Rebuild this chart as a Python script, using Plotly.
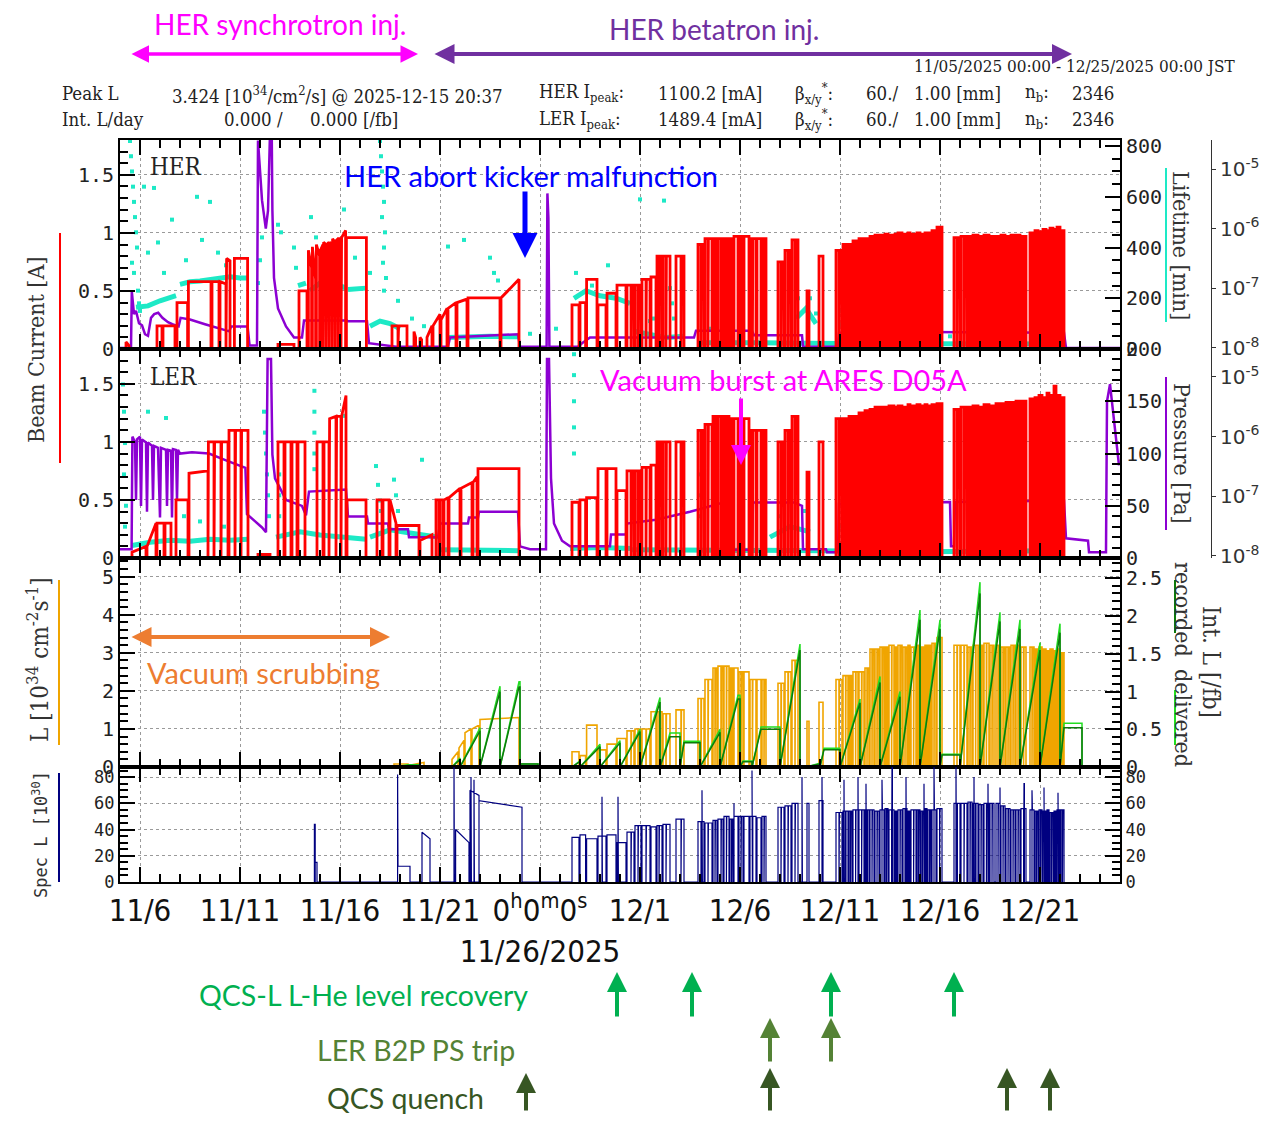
import pandas as pd
import plotly.graph_objects as go

BASE = pd.Timestamp("2025-11-05 00:00:00")
N_DAYS = 50  # 11/05 00:00 -> 12/25 00:00 JST

# ---------------- x ticks ----------------
XTICK_DAYS = [1, 6, 11, 16, 21, 26, 31, 36, 41, 46]
XTICK_TEXT = ["11/6", "11/11", "11/16", "11/21",
              "0<sup>h</sup>0<sup>m</sup>0<sup>s</sup><br>11/26/2025",
              "12/1", "12/6", "12/11", "12/16", "12/21"]
# pressure axis ticks
P_TICKS = [1e-8, 1e-7, 1e-6, 1e-5]
P_TICK_TEXT = ["10<sup>-8</sup>", "10<sup>-7</sup>", "10<sup>-6</sup>", "10<sup>-5</sup>"]

# ---------------- beam current fills: (start day, end day, I at start [A], I at end [A]) -------------
HER_FILLS_EARLY = [
    (0.30, 0.45, 0.06, 0.03), (1.85, 2.10, 0.20, 0.20), (2.15, 2.75, 0.20, 0.20),
    (2.85, 3.38, 0.40, 0.40), (3.42, 4.55, 0.58, 0.58), (4.60, 4.95, 0.58, 0.58),
    (5.00, 5.30, 0.58, 0.56), (5.33, 5.50, 0.78, 0.76), (5.72, 6.38, 0.78, 0.78),
    (7.90, 8.70, 0.04, 0.04), (8.95, 9.35, 0.50, 0.50), (9.42, 9.58, 0.85, 0.70),
    (9.62, 9.78, 0.88, 0.60), (9.82, 9.98, 0.90, 0.80), (10.02, 10.15, 0.85, 0.90),
    (10.18, 10.30, 0.92, 0.90), (10.33, 10.45, 0.90, 0.92), (10.48, 10.60, 0.92, 0.90),
    (10.63, 10.75, 0.95, 0.92), (10.78, 10.90, 0.93, 0.95), (10.93, 11.05, 0.95, 0.95),
    (11.08, 11.28, 0.96, 1.02), (11.32, 12.32, 0.96, 0.96), (13.60, 13.90, 0.20, 0.20),
    (13.93, 14.35, 0.20, 0.20), (14.70, 14.78, 0.15, 0.10), (15.00, 15.08, 0.10, 0.08),
    (15.35, 15.60, 0.10, 0.20), (15.65, 16.00, 0.20, 0.30), (16.05, 16.35, 0.25, 0.35),
    (16.40, 16.80, 0.35, 0.40), (16.85, 17.35, 0.40, 0.43), (17.40, 19.00, 0.44, 0.44),
    (19.05, 19.95, 0.44, 0.60),
]
LER_FILLS_EARLY = [
    (0.60, 1.30, 0.05, 0.10), (1.35, 1.80, 0.10, 0.30), (1.85, 2.20, 0.30, 0.30),
    (2.25, 2.55, 0.30, 0.30), (2.80, 3.40, 0.50, 0.50), (3.45, 4.40, 0.73, 0.75),
    (4.42, 4.70, 1.00, 1.00), (4.73, 5.05, 1.00, 1.00), (5.08, 5.40, 1.00, 1.00),
    (5.45, 5.75, 1.10, 1.10), (5.78, 6.05, 1.10, 1.10), (6.08, 6.40, 1.10, 1.10),
    (6.90, 7.50, 0.03, 0.03), (7.90, 8.20, 1.00, 1.00), (8.25, 8.55, 1.00, 1.00),
    (8.60, 8.85, 1.00, 1.00), (8.90, 9.25, 1.00, 1.00), (9.85, 10.15, 1.00, 1.00),
    (10.20, 10.45, 1.00, 1.00), (10.48, 10.80, 1.20, 1.22), (10.83, 11.05, 1.22, 1.22),
    (11.08, 11.30, 1.22, 1.40), (11.35, 12.30, 0.50, 0.50), (12.85, 13.10, 0.50, 0.50),
    (13.15, 13.45, 0.50, 0.50), (13.50, 13.80, 0.50, 0.30), (13.85, 14.95, 0.28, 0.28),
    (15.00, 15.60, 0.15, 0.20), (15.80, 15.95, 0.50, 0.50), (16.00, 16.15, 0.50, 0.50),
    (16.20, 16.40, 0.50, 0.52), (16.45, 17.00, 0.52, 0.60), (17.05, 17.60, 0.60, 0.65),
    (17.65, 17.85, 0.65, 0.70), (17.90, 19.95, 0.77, 0.77),
]
# luminosity [1e34] and specific luminosity [1e30] before the collision period
LUM_FILLS_EARLY = [
    (13.70, 14.40, 0.08, 0.08), (14.50, 15.20, 0.05, 0.12), (16.60, 16.90, 0.20, 0.40),
    (16.95, 17.20, 0.50, 0.70), (17.25, 17.55, 0.90, 1.00), (17.60, 17.95, 1.00, 1.10),
    (18.00, 19.95, 1.25, 1.30),
]
SPEC_FILLS_EARLY = [
    (9.72, 9.76, 44, 44), (9.76, 9.85, 15, 15), (13.90, 14.50, 12, 12),
    (15.10, 15.50, 38, 33), (16.78, 17.45, 40, 30), (17.50, 17.95, 70, 66),
    (17.95, 20.10, 62, 57),
]

# ---------------- collision runs (start/end day) with levels per run ----------------
RUN_START = [22.60, 23.00, 23.33, 23.90, 24.35, 24.85, 25.35, 25.75, 26.10, 26.55,
             26.85, 27.15, 27.80, 28.90, 29.25, 29.65, 29.90, 30.20, 30.50, 30.70,
             30.95, 31.20, 31.50, 31.85, 32.10, 32.90, 33.25, 33.60, 34.35, 34.95,
             35.80, 36.15, 36.45, 36.65, 36.95, 37.25, 37.50, 37.75, 38.00, 38.25,
             38.45, 38.75, 38.90, 39.15, 39.40, 39.55, 39.85, 40.05, 40.25, 40.40,
             40.60, 40.85, 41.70, 42.05, 42.40, 42.65, 42.95, 43.20, 43.50, 43.80,
             44.05, 44.30, 44.55, 44.80, 45.05, 45.50, 45.75, 45.95, 46.15, 46.35,
             46.50, 46.70, 46.85, 47.05]
RUN_END = [22.95, 23.28, 23.85, 24.30, 24.80, 25.30, 25.70, 26.05, 26.50, 26.80,
           27.10, 27.50, 28.20, 29.20, 29.60, 29.85, 30.15, 30.45, 30.65, 30.90,
           31.15, 31.45, 31.80, 32.05, 32.30, 33.20, 33.55, 33.90, 34.45, 35.15,
           36.10, 36.40, 36.60, 36.90, 37.20, 37.45, 37.70, 37.95, 38.20, 38.40,
           38.70, 38.85, 39.10, 39.35, 39.50, 39.80, 40.00, 40.20, 40.35, 40.55,
           40.80, 41.10, 42.00, 42.35, 42.60, 42.90, 43.15, 43.45, 43.70, 44.00,
           44.25, 44.50, 44.75, 45.00, 45.30, 45.70, 45.90, 46.10, 46.30, 46.45,
           46.65, 46.80, 47.00, 47.20]
# short beam losses inside runs (day)
EXTRA_ABORTS = [25.55, 25.90, 26.30, 26.95, 27.30, 28.05, 29.05, 29.40, 29.75, 30.05,
                30.32, 30.58, 31.05, 31.62, 32.20, 33.05, 33.40, 33.75, 35.95, 36.28,
                36.52, 36.78, 37.08, 37.35, 37.60, 37.85, 38.10, 38.32, 38.58, 38.80,
                39.00, 39.25, 39.45, 39.68, 39.92, 40.12, 40.30, 40.48, 40.70, 40.98,
                41.85, 42.20, 42.50, 42.78, 43.05, 43.32, 43.60, 43.90, 44.15, 44.40,
                44.65, 44.90, 45.18, 45.60, 45.82, 46.02, 46.22, 46.40, 46.57, 46.75,
                46.92, 47.12]
HER_RUN_I = [0.38, 0.40, 0.60, 0.38, 0.48, 0.55, 0.55, 0.55, 0.60, 0.62,
             0.80, 0.80, 0.80, 0.90, 0.95, 0.95, 0.95, 0.95, 0.95, 0.97,
             0.97, 0.97, 0.95, 0.95, 0.95, 0.75, 0.85, 0.94, 0.50, 0.80,
             0.85, 0.90, 0.90, 0.93, 0.95, 0.95, 0.97, 0.98, 0.98, 0.99,
             0.98, 0.99, 1.00, 0.99, 1.00, 0.99, 1.00, 0.99, 1.00, 1.00,
             1.02, 1.05, 0.96, 0.97, 0.97, 0.98, 0.97, 0.98, 0.97, 0.97,
             0.98, 0.97, 0.98, 0.98, 0.97, 1.00, 1.02, 1.01, 1.03, 1.02,
             1.04, 1.03, 1.05, 1.02]
LER_RUN_I = [0.48, 0.50, 0.52, 0.77, 0.77, 0.58, 0.75, 0.75, 0.78, 0.80,
             1.00, 1.00, 1.00, 1.10, 1.15, 1.22, 1.22, 1.22, 1.20, 1.20,
             1.20, 1.20, 1.10, 1.10, 1.10, 1.00, 1.10, 1.22, 0.74, 1.00,
             1.20, 1.20, 1.22, 1.22, 1.25, 1.27, 1.28, 1.30, 1.30, 1.30,
             1.31, 1.30, 1.31, 1.30, 1.32, 1.31, 1.32, 1.31, 1.32, 1.31,
             1.32, 1.33, 1.28, 1.30, 1.30, 1.31, 1.30, 1.32, 1.31, 1.33,
             1.33, 1.34, 1.34, 1.35, 1.35, 1.37, 1.38, 1.40, 1.38, 1.42,
             1.40, 1.48, 1.40, 1.38]
LUM_RUN = [0.40, 0.30, 1.10, 0.45, 0.60, 0.75, 0.95, 1.00, 1.00, 1.45,
           1.45, 1.40, 1.50, 1.80, 2.30, 2.60, 2.65, 2.65, 2.60, 2.60,
           2.50, 2.50, 2.30, 2.30, 2.30, 2.20, 2.50, 2.80, 1.20, 1.70,
           2.30, 2.40, 2.40, 2.50, 2.50, 2.60, 3.10, 3.10, 3.15, 3.15,
           3.20, 3.15, 3.20, 3.15, 3.20, 3.15, 3.20, 3.15, 3.20, 3.20,
           3.25, 3.40, 3.20, 3.20, 3.15, 3.20, 3.20, 3.25, 3.20, 3.20,
           3.15, 3.15, 3.20, 3.20, 3.15, 3.15, 3.10, 3.15, 3.10, 3.05,
           3.10, 3.05, 3.10, 3.00]
SPEC_RUN = [34, 36, 33, 35, 36, 30, 38, 43, 43, 42,
            43, 44, 48, 46, 45, 47, 48, 50, 48, 50,
            50, 50, 50, 49, 50, 57, 58, 60, 60, 62,
            53, 54, 54, 55, 55, 55, 55, 54, 55, 56,
            55, 54, 55, 56, 54, 55, 55, 54, 56, 55,
            55, 56, 60, 60, 61, 60, 59, 60, 60, 60,
            58, 56, 55, 55, 56, 55, 54, 55, 54, 55,
            53, 54, 55, 55]
SPEC_SPIKE_T = [13.88, 16.70, 17.55, 17.70, 24.10, 24.90, 29.10, 30.70, 31.60, 34.10,
                35.10, 36.20, 36.90, 37.30, 38.10, 38.60, 39.30, 40.20, 40.70, 41.80,
                42.70, 43.40, 44.00, 45.20, 45.60, 46.20, 46.90]
SPEC_SPIKE_V = [82, 90, 80, 78, 65, 65, 70, 60, 85, 80,
                80, 78, 80, 75, 78, 90, 80, 75, 88, 88,
                80, 75, 72, 75, 70, 72, 68]

# ---------------- vacuum pressure [Pa] (day, value) ----------------
HER_PRESSURE = [
    (0.0, 1.0e-8), (0.55, 1.0e-8), (0.59, 8.9e-8), (0.70, 3.7e-8), (0.80, 4.2e-8),
    (0.95, 2.6e-8), (1.10, 2.4e-8), (1.25, 1.7e-8), (1.40, 1.6e-8), (1.55, 3.2e-8),
    (1.71, 3.7e-8), (1.91, 3.9e-8), (2.12, 3.2e-8), (2.40, 2.7e-8), (2.62, 2.5e-8),
    (2.93, 2.3e-8), (3.03, 3.2e-8), (3.50, 3.0e-8), (4.25, 2.5e-8), (5.00, 2.1e-8),
    (5.46, 1.9e-8), (5.56, 2.3e-8), (6.38, 2.3e-8), (6.48, 1.1e-8), (6.85, 1.1e-8),
    (6.90, 3.0e-5), (7.10, 3.0e-6), (7.29, 1.0e-6), (7.40, 2.0e-6), (7.49, 3.0e-5),
    (7.59, 3.0e-5), (7.62, 2.0e-6), (7.70, 1.5e-7), (7.90, 4.6e-8), (8.30, 2.3e-8),
    (8.70, 1.5e-8), (9.10, 1.5e-8), (9.20, 2.9e-8), (11.35, 2.9e-8), (11.40, 2.8e-8),
    (12.35, 2.8e-8), (12.45, 1.2e-8), (13.80, 1.05e-8), (16.40, 1.05e-8), (16.50, 1.5e-8),
    (19.90, 1.7e-8), (20.00, 1.05e-8), (21.33, 1.05e-8), (21.37, 3.9e-6), (21.42, 1.5e-6),
    (21.47, 1.05e-8), (22.90, 1.05e-8), (23.10, 1.2e-8), (23.50, 1.5e-8), (28.70, 1.5e-8),
    (28.80, 1.95e-8), (31.60, 1.95e-8), (31.70, 1.64e-8), (34.10, 1.64e-8), (34.15, 1.05e-8),
    (35.90, 1.05e-8), (35.95, 1.8e-8), (40.00, 1.85e-8), (47.20, 1.8e-8), (47.30, 1.0e-8),
    (50.00, 1.0e-8),
]
LER_PRESSURE = [
    (0.0, 1.3e-8), (0.58, 1.3e-8), (0.62, 1.0e-6), (0.75, 8.1e-7), (0.80, 8.7e-8),
    (0.85, 9.0e-7), (1.00, 1.0e-6), (1.05, 6.9e-8), (1.10, 9.0e-7), (1.30, 8.0e-7),
    (1.35, 5.5e-8), (1.40, 8.0e-7), (1.60, 7.0e-7), (1.65, 8.7e-8), (1.70, 7.0e-7),
    (1.90, 6.5e-7), (2.00, 4.4e-8), (2.05, 6.5e-7), (2.30, 6.0e-7), (2.35, 6.9e-8),
    (2.40, 6.0e-7), (2.55, 5.8e-7), (2.60, 4.4e-8), (2.65, 6.2e-7), (2.80, 6.0e-7),
    (2.85, 8.7e-8), (2.90, 6.0e-7), (3.00, 5.2e-7), (3.60, 5.5e-7), (4.45, 5.2e-7),
    (5.30, 4.0e-7), (6.27, 3.0e-7), (6.35, 5.0e-8), (6.60, 4.2e-8), (7.10, 3.0e-8),
    (7.30, 2.5e-8), (7.38, 2.0e-5), (7.55, 2.0e-5), (7.62, 5.0e-7), (7.75, 2.0e-7),
    (8.00, 1.35e-7), (8.30, 8.7e-8), (9.10, 6.9e-8), (9.30, 4.8e-8), (9.45, 1.2e-7),
    (11.30, 1.3e-7), (11.40, 4.6e-8), (12.35, 4.6e-8), (12.40, 3.5e-8), (13.40, 3.5e-8),
    (13.45, 2.8e-8), (14.40, 2.8e-8), (14.45, 2.05e-8), (15.90, 2.05e-8), (16.00, 3.5e-8),
    (17.40, 3.5e-8), (17.45, 4.4e-8), (17.90, 4.4e-8), (17.95, 5.5e-8), (19.90, 5.5e-8),
    (20.00, 1.45e-8), (20.50, 1.3e-8), (21.30, 1.3e-8), (21.35, 2.0e-5), (21.45, 2.0e-5),
    (21.55, 2.0e-7), (21.70, 3.5e-8), (22.10, 1.8e-8), (22.50, 1.45e-8), (24.50, 1.45e-8),
    (24.55, 2.3e-8), (25.30, 2.3e-8), (25.35, 3.5e-8), (26.80, 4.05e-8), (28.50, 5.5e-8),
    (30.20, 7.9e-8), (30.25, 1.27e-8), (31.60, 1.27e-8), (31.65, 7.9e-8), (33.70, 7.9e-8),
    (34.10, 6.9e-8), (34.15, 1.3e-8), (35.30, 1.3e-8), (35.35, 1.16e-8), (35.90, 1.16e-8),
    (35.95, 7.5e-8), (41.50, 8.0e-8), (41.55, 1.45e-8), (41.70, 1.45e-8), (41.75, 8.0e-8),
    (47.20, 8.5e-8), (47.30, 1.98e-8), (48.40, 1.8e-8), (48.45, 1.16e-8), (49.30, 1.16e-8),
    (49.35, 3.9e-6), (49.50, 7.6e-6), (49.80, 8.1e-7), (49.95, 3.3e-7),
]

# ---------------- beam lifetime [min] ----------------
HER_LIFETIME_BANDS = [
    [(3.0, 255), (3.5, 265), (4.0, 268), (4.5, 275), (5.0, 280), (5.5, 285), (6.0, 280), (6.35, 280)],
    [(0.8, 165), (1.4, 170), (2.0, 190), (2.8, 210)],
    [(8.9, 250), (9.3, 260)],
    [(9.5, 230), (10.0, 260), (10.5, 255), (11.0, 250), (11.3, 240)],
    [(11.4, 235), (12.3, 240)],
    [(12.5, 90), (13.0, 110), (13.5, 100), (14.0, 80)],
    [(16.4, 45), (17.5, 50), (18.5, 50), (19.9, 48)],
    [(22.7, 200), (23.3, 230), (24.0, 210), (24.8, 200), (25.5, 180)],
    [(25.7, 70), (26.5, 55), (27.3, 45), (28.2, 50)],
    [(28.9, 25), (31.0, 22), (33.0, 24), (36.0, 22), (39.0, 20), (42.0, 20), (45.0, 20), (47.2, 22)],
    [(33.8, 120), (34.3, 160), (34.8, 100)],
    [(36.0, 100), (36.5, 80)],
]
HER_LIFETIME_DOTS = [
    (0.50, 820), (0.55, 760), (0.60, 700), (0.65, 640), (0.70, 580), (0.75, 520), (0.80, 460),
    (0.85, 400), (0.60, 340), (0.70, 300), (0.90, 230), (0.95, 180), (1.00, 150), (1.20, 640),
    (1.40, 380), (1.70, 635), (1.90, 420), (2.20, 300), (2.60, 510), (3.30, 350), (3.85, 600),
    (4.10, 430), (4.50, 580), (4.90, 380), (5.30, 330), (6.90, 260), (7.00, 350), (7.10, 440),
    (7.90, 490), (8.05, 460), (8.70, 400), (8.80, 320), (9.55, 520), (9.80, 440), (10.30, 360),
    (11.20, 550), (11.75, 360), (12.50, 300), (13.00, 820), (13.05, 760), (13.10, 700),
    (13.15, 640), (13.20, 580), (13.10, 520), (13.25, 460), (13.20, 400), (13.15, 340),
    (13.30, 280), (13.20, 230), (13.90, 190), (14.60, 120), (15.20, 90), (16.40, 404),
    (17.20, 430), (18.50, 360), (18.70, 300), (18.90, 270), (20.50, 60), (21.80, 80),
    (22.80, 300), (23.60, 250), (24.40, 330), (26.00, 590), (26.50, 110), (26.70, 120),
    (27.20, 585), (27.50, 240), (27.60, 180), (27.70, 120), (29.50, 80), (31.00, 60),
    (33.90, 200), (34.50, 200), (34.80, 140), (36.00, 150), (36.30, 110), (38.50, 60), (41.50, 50),
]
LER_LIFETIME_BANDS = [
    [(0.6, 12), (1.5, 15), (2.5, 17), (3.5, 16), (4.5, 18), (5.5, 17), (6.4, 18)],
    [(7.8, 20), (9.0, 25), (10.0, 22), (11.0, 20), (12.3, 18)],
    [(12.5, 20), (13.5, 27), (14.5, 24), (15.9, 20)],
    [(16.0, 8), (17.5, 8), (19.9, 7)],
    [(22.5, 9), (24.0, 10), (25.6, 9)],
    [(25.6, 8), (30.0, 7), (35.0, 7), (40.0, 6), (44.0, 6), (47.2, 7)],
    [(32.5, 20), (33.5, 30), (34.5, 25)],
]
LER_LIFETIME_DOTS = [
    (0.15, 166), (0.20, 140), (0.25, 110), (0.20, 80), (0.30, 50), (0.25, 30), (1.40, 140),
    (2.30, 134), (3.20, 40), (4.00, 35), (5.20, 30), (7.20, 140), (7.25, 120), (7.30, 100),
    (7.35, 80), (7.40, 60), (7.45, 40), (7.96, 80), (7.96, 60), (7.96, 40), (9.72, 160),
    (9.72, 140), (9.72, 120), (9.72, 100), (9.72, 85), (11.15, 136), (12.80, 88), (12.90, 70),
    (13.00, 55), (13.05, 45), (13.70, 75), (13.80, 60), (13.90, 45), (15.10, 94), (22.70, 195),
    (22.70, 175), (22.70, 150), (22.70, 125), (22.70, 100), (29.00, 80), (29.00, 60), (29.00, 40),
    (33.00, 40), (34.20, 45), (36.00, 30),
]

# ---------------- daily integrated luminosity [/fb] ----------------
SAW_T0 = [13.70, 16.60, 17.00, 18.00, 19.00, 20.00, 22.60, 23.00, 24.00, 25.00, 26.00,
          27.00, 28.00, 29.00, 30.00, 31.00, 31.60, 33.00, 34.30, 35.00, 36.00, 37.00,
          38.00, 39.00, 40.00, 41.00, 42.00, 43.00, 44.00, 45.00, 46.00, 47.00]
SAW_T1 = [14.40, 17.00, 18.00, 19.00, 19.95, 20.00, 23.00, 24.00, 25.00, 26.00, 27.00,
          27.50, 28.20, 30.00, 30.90, 31.15, 32.05, 34.00, 35.00, 35.20, 37.00, 38.00,
          39.00, 40.00, 41.00, 41.10, 43.00, 44.00, 45.00, 46.00, 47.00, 47.20]
SAW_T2 = [15.00, 17.00, 18.00, 19.00, 20.00, 20.90, 23.00, 24.00, 25.00, 26.00, 27.00,
          28.00, 29.00, 30.00, 31.00, 31.60, 33.00, 34.00, 35.00, 36.00, 37.00, 38.00,
          39.00, 40.00, 41.00, 42.00, 43.00, 44.00, 45.00, 46.00, 47.00, 48.10]
DELIVERED = [0.03, 0.12, 0.52, 1.07, 1.13, 0.04, 0.08, 0.30, 0.35, 0.50, 0.92,
             0.45, 0.34, 0.50, 0.95, 0.08, 0.53, 1.63, 0.05, 0.25, 0.90, 1.20,
             1.00, 2.08, 1.95, 0.17, 2.45, 2.05, 1.95, 1.65, 1.90, 0.58]
RECORDED = [0.02, 0.10, 0.48, 1.00, 1.06, 0.04, 0.07, 0.27, 0.32, 0.47, 0.86,
            0.40, 0.32, 0.46, 0.90, 0.07, 0.50, 1.55, 0.04, 0.23, 0.85, 1.12,
            0.93, 1.95, 1.83, 0.16, 2.30, 1.93, 1.83, 1.55, 1.78, 0.52]

# ---------------- event markers (day) ----------------
ABORT_KICKER_DAY = 20.25
VACUUM_BURST_DAY = 31.05
QCS_RECOVERY_DAYS = [24.85, 28.60, 35.55, 41.70]
B2P_TRIP_DAYS = [32.50, 35.55]
QCS_QUENCH_DAYS = [20.30, 32.50, 44.35, 46.50]

# =====================================================================
def to_time(days):
    return [None if d is None else BASE + pd.Timedelta(days=d) for d in days]

def iso(d):
    return (BASE + pd.Timedelta(days=d)).strftime("%Y-%m-%d %H:%M:%S")

def fills_xy(fills):
    xs, ys = [], []
    for t0, t1, v0, v1 in sorted(fills):
        xs += [t0, t0, t1, t1]
        ys += [0, v0, v1, 0]
    return to_time(xs), ys

def runs(levels):
    out = []
    for a, b, v in zip(RUN_START, RUN_END, levels):
        cuts = [c for c in EXTRA_ABORTS if a < c < b]
        edges = [a] + cuts + [b]
        for i in range(len(edges) - 1):
            s = edges[i] + (0.02 if i > 0 else 0.0)
            out.append((s, edges[i + 1], v, v))
    return out

def saw(peaks):
    xs, ys = [], []
    for a, b, c, p in zip(SAW_T0, SAW_T1, SAW_T2, peaks):
        xs += [a, b, c, c]
        ys += [0, p, p, 0]
    return to_time(xs), ys

def pairs(pts):
    return to_time([p[0] for p in pts]), [p[1] for p in pts]

def bands(segs):
    xs, ys = [], []
    for s in segs:
        xs += [p[0] for p in s] + [None]
        ys += [p[1] for p in s] + [None]
    return to_time(xs), ys

# The page adds an 8 px body margin, so the figure starts at (8, 8) on screen.
# Helpers take screen pixels (1268x1122 window); plot area x 120..1120, y 140..882.
FIG_W, FIG_H = 1260, 1106
ML, MT = 112, 132
PW, PH = FIG_W - ML, 742
MB = FIG_H - MT - PH
def px(x): return (x - 120) / PW
def py(y): return (882 - y) / PH
XR = px(1120)
PX_LOG = px(1211)

D1 = [py(349), 1.0]
D2 = [py(558), py(349)]
D3 = [py(767), py(558)]
D4 = [0.0, py(767)]

RED = "#FF0000"
CYAN = "#1DE9C6"
PURPLE = "#8C00D2"
ORANGE = "#F0A500"
LGREEN = "#22DD22"
DGREEN = "#0C7A0C"
NAVY = "#000080"

fig = go.Figure()

# ---- panel 1 (HER) ----
x, y = bands(HER_LIFETIME_BANDS)
fig.add_trace(go.Scatter(x=x, y=y, mode="lines", line=dict(color=CYAN, width=5),
                         xaxis="x", yaxis="y", connectgaps=False))
x, y = pairs(HER_LIFETIME_DOTS)
fig.add_trace(go.Scatter(x=x, y=y, mode="markers", marker=dict(color=CYAN, size=4, symbol="square"),
                         xaxis="x", yaxis="y"))
x, y = pairs(HER_PRESSURE)
fig.add_trace(go.Scatter(x=x, y=y, mode="lines", line=dict(color=PURPLE, width=2.5),
                         xaxis="x", yaxis="y5"))
x, y = fills_xy(HER_FILLS_EARLY + runs(HER_RUN_I))
fig.add_trace(go.Scatter(x=x, y=y, mode="lines", line=dict(color=RED, width=2.8),
                         xaxis="x", yaxis="y6"))

# ---- panel 2 (LER) ----
x, y = bands(LER_LIFETIME_BANDS)
fig.add_trace(go.Scatter(x=x, y=y, mode="lines", line=dict(color=CYAN, width=5),
                         xaxis="x2", yaxis="y2", connectgaps=False))
x, y = pairs(LER_LIFETIME_DOTS)
fig.add_trace(go.Scatter(x=x, y=y, mode="markers", marker=dict(color=CYAN, size=4, symbol="square"),
                         xaxis="x2", yaxis="y2"))
x, y = pairs(LER_PRESSURE)
fig.add_trace(go.Scatter(x=x, y=y, mode="lines", line=dict(color=PURPLE, width=2.5),
                         xaxis="x2", yaxis="y7"))
x, y = fills_xy(LER_FILLS_EARLY + runs(LER_RUN_I))
fig.add_trace(go.Scatter(x=x, y=y, mode="lines", line=dict(color=RED, width=2.8),
                         xaxis="x2", yaxis="y8"))

# ---- panel 3 (luminosity, integrated luminosity drawn on top) ----
x, y = fills_xy(LUM_FILLS_EARLY + runs(LUM_RUN))
fig.add_trace(go.Scatter(x=x, y=y, mode="lines", line=dict(color=ORANGE, width=1.6),
                         xaxis="x3", yaxis="y3"))
x, y = saw(DELIVERED)
fig.add_trace(go.Scatter(x=x, y=y, mode="lines", line=dict(color=LGREEN, width=1.5),
                         xaxis="x3", yaxis="y9"))
x, y = saw(RECORDED)
fig.add_trace(go.Scatter(x=x, y=y, mode="lines", line=dict(color=DGREEN, width=1.5),
                         xaxis="x3", yaxis="y9"))

# ---- panel 4 (specific luminosity) ----
spikes = [(t, t + 0.02, v, v) for t, v in zip(SPEC_SPIKE_T, SPEC_SPIKE_V)]
x, y = fills_xy(SPEC_FILLS_EARLY + runs(SPEC_RUN) + spikes)
fig.add_trace(go.Scatter(x=x, y=y, mode="lines", line=dict(color=NAVY, width=1.2),
                         xaxis="x4", yaxis="y4"))
fig.add_trace(go.Scatter(x=to_time([0.0]), y=[0], mode="markers", marker=dict(opacity=0),
                         xaxis="x4", yaxis="y10"))

# ---------------- axes ----------------
GRID = dict(showgrid=True, gridcolor="#9a9a9a", griddash="dot", gridwidth=1)
MONO = "DejaVu Sans Mono"

def yax(rng, dtick, mdtick, side, size=20, grid=False, **kw):
    d = dict(range=rng, dtick=dtick, side=side, showline=True, linecolor="black", linewidth=2,
             ticks="inside", ticklen=15, tickwidth=2, tickcolor="black", zeroline=False,
             automargin=False, showgrid=False,
             tickfont=dict(family=MONO, size=size, color="#222"),
             minor=dict(ticks="inside", ticklen=8, tickwidth=1.5, tickcolor="black",
                        dtick=mdtick, showgrid=False))
    if grid:
        d.update(GRID)
    d.update(kw)
    return d

def logax(rng, overlay):
    return dict(type="log", range=rng, overlaying=overlay, anchor="free", position=PX_LOG,
                side="right", showline=True, linecolor="#333", linewidth=1, ticks="outside",
                ticklen=4, tickcolor="#333", tickmode="array", tickvals=P_TICKS,
                ticktext=P_TICK_TEXT, showgrid=False, zeroline=False, automargin=False,
                tickfont=dict(family="DejaVu Sans", size=20, color="#333"))

xcommon = dict(type="date", range=[BASE, BASE + pd.Timedelta(days=N_DAYS)], domain=[0, XR],
               showline=True, linecolor="black", linewidth=2, mirror="ticks", ticks="inside",
               ticklen=15, tickwidth=2, tickcolor="black", tickmode="array",
               tickvals=to_time(XTICK_DAYS), ticktext=XTICK_TEXT, zeroline=False,
               automargin=False, tickangle=0,
               minor=dict(ticks="inside", ticklen=8, tickwidth=1.5, tickcolor="black",
                          dtick=86400000, tick0="2025-11-05", showgrid=False),
               **GRID)

layout = dict(
    width=FIG_W, height=FIG_H, template="none", showlegend=False,
    paper_bgcolor="white", plot_bgcolor="white",
    margin=dict(l=ML, r=0, t=MT, b=MB, pad=0),
    xaxis=dict(xcommon, anchor="y", showticklabels=False),
    xaxis2=dict(xcommon, anchor="y2", matches="x", showticklabels=False),
    xaxis3=dict(xcommon, anchor="y3", matches="x", showticklabels=False),
    xaxis4=dict(xcommon, anchor="y4", matches="x", showticklabels=True,
                tickfont=dict(family="DejaVu Sans Condensed, DejaVu Sans", size=31, color="#111")),
    yaxis=yax([0, 824], 200, 50, "right", domain=D1, anchor="x"),
    yaxis5=logax([-8.017, -4.514], "y"),
    yaxis6=yax([0, 1.80], 0.5, 0.1, "left", grid=True, overlaying="y", anchor="x"),
    yaxis2=yax([0, 200], 50, 10, "right", domain=D2, anchor="x2"),
    yaxis7=logax([-8.034, -4.531], "y2"),
    yaxis8=yax([0, 1.80], 0.5, 0.1, "left", grid=True, overlaying="y2", anchor="x2"),
    yaxis3=yax([0, 5.49], 1, 0.2, "left", grid=True, domain=D3, anchor="x3"),
    yaxis9=yax([0, 2.77], 0.5, 0.1, "right", overlaying="y3", anchor="x3"),
    yaxis4=yax([0, 87.7], 20, 5, "left", size=17, grid=True, domain=D4, anchor="x4"),
    yaxis10=yax([0, 87.7], 20, 5, "right", size=17, overlaying="y4", anchor="x4"),
)
fig.update_layout(**layout)

# ---------------- text & arrows ----------------
CAL = "Lato, Noto Sans, sans-serif"
SERIF = "DejaVu Serif Condensed, DejaVu Serif, serif"
ann = []

def text(x, y, s, size, color="#222", family=SERIF, xanchor="left", angle=0):
    ann.append(dict(x=px(x), y=py(y), xref="paper", yref="paper", text=s, showarrow=False,
                    xanchor=xanchor, yanchor="middle", textangle=angle,
                    font=dict(family=family, size=size, color=color)))

def arrow(xh, yh, dx, dy, color, width, both=False, xdate=None):
    a = dict(x=px(xh) if xdate is None else iso(xdate), y=py(yh),
             xref="paper" if xdate is None else "x", yref="paper",
             ax=dx, ay=dy, axref="pixel", ayref="pixel", text="", showarrow=True,
             arrowhead=2, arrowsize=1.0, arrowwidth=width, arrowcolor=color, standoff=0)
    if both:
        a["arrowside"] = "end+start"
        a["startarrowhead"] = 2
        a["startarrowsize"] = 1.0
    ann.append(a)

# top injection ranges
text(280, 24, "HER synchrotron inj.", 28, "#FF00FF", CAL, "center")
arrow(418, 54, -288, 0, "#FF00FF", 3.5, both=True)
text(714, 29, "HER betatron inj.", 28, "#7030A0", CAL, "center")
arrow(1072, 54, -639, 0, "#7030A0", 4, both=True)

# header
HS = 18.5
text(1237, 66, "11/05/2025 00:00 - 12/25/2025 00:00 JST", 17, "#222", SERIF, "right")
text(60, 93, "Peak L", HS)
text(170, 95, "3.424 [10<sup>34</sup>/cm<sup>2</sup>/s] @ 2025-12-15 20:37", HS)
text(60, 120, "Int. L/day", HS)
text(222, 120, "0.000 /", HS)
text(308, 120, "0.000 [/fb]", HS)
for yy, ring, ipk in [(93, "HER", "1100.2 [mA]"), (120, "LER", "1489.4 [mA]")]:
    text(537, yy, ring + " I<sub>peak</sub>:", HS)
    text(656, yy, ipk, HS)
    text(793, yy, "β<sub>x/y</sub><sup>*</sup>:", HS)
    text(864, yy, "60./", HS)
    text(912, yy, "1.00 [mm]", HS)
    text(1023, yy, "n<sub>b</sub>:", HS)
    text(1070, yy, "2346", HS)

# panel labels
text(148, 167, "HER", 24)
text(148, 377, "LER", 24)

# in-plot notes
text(342, 175, "HER abort kicker malfunction", 29, "#0000FF", CAL)
arrow(0, 258, 0, -68, "#0000FF", 5, xdate=ABORT_KICKER_DAY)
text(598, 379, "Vacuum burst at ARES D05A", 29, "#FF00FF", CAL)
arrow(0, 465, 0, -68, "#FF00FF", 4, xdate=VACUUM_BURST_DAY)
text(145, 673, "Vacuum scrubbing", 29, "#ED7D31", CAL)
arrow(390, 637, -260, 0, "#ED7D31", 4, both=True)

# bottom event arrows
text(197, 995, "QCS-L L-He level recovery", 28.5, "#00B050", CAL)
for d in QCS_RECOVERY_DAYS:
    arrow(0, 972, 0, 46, "#00B050", 4, xdate=d)
text(315, 1050, "LER B2P PS trip", 28.5, "#548235", CAL)
for d in B2P_TRIP_DAYS:
    arrow(0, 1018, 0, 45, "#548235", 4, xdate=d)
text(325, 1098, "QCS quench", 28.5, "#375623", CAL)
for d, yh in zip(QCS_QUENCH_DAYS, [1073, 1068, 1068, 1068]):
    arrow(0, yh, 0, 1112 - yh, "#375623", 4, xdate=d)

# axis titles
text(36, 350, "Beam Current [A]", 23, "#333", SERIF, "center", -90)
text(38, 660, "L [10<sup>34</sup> cm<sup>-2</sup>s<sup>-1</sup>]", 24, "#333", SERIF, "center", -90)
text(40, 835, "Spec L [10<sup>30</sup>]", 17, "#333", MONO, "center", -90)
text(1181, 245, "Lifetime [min]", 23, "#333", SERIF, "center", 90)
text(1182, 453, "Pressure [Pa]", 23, "#333", SERIF, "center", 90)
text(1211, 662, "Int. L [/fb]", 24, "#333", SERIF, "center", 90)
text(1183, 609, "recorded", 23, "#333", SERIF, "center", 90)
text(1183, 718, "delivered", 23, "#333", SERIF, "center", 90)

fig.update_layout(annotations=ann)

# colour keys next to the axis titles
def key(x, y0, y1, color, w=2):
    fig.add_shape(type="line", xref="paper", yref="paper", x0=px(x), x1=px(x),
                  y0=py(y0), y1=py(y1), line=dict(color=color, width=w))

key(60, 233, 463, RED)
key(59, 580, 745, ORANGE)
key(59, 773, 882, NAVY)
key(1166, 168, 322, CYAN)
key(1166, 377, 530, PURPLE)
key(1175, 580, 633, DGREEN)
key(1175, 690, 745, LGREEN)

fig.write_html("out.html")
